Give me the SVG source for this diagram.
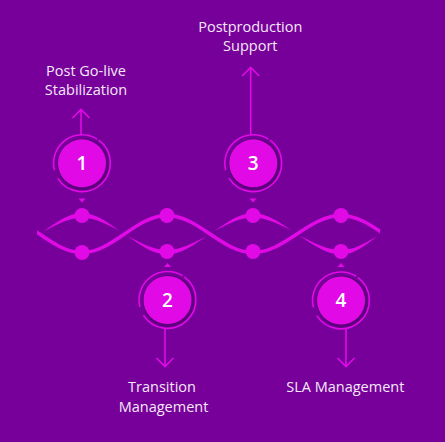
<svg xmlns="http://www.w3.org/2000/svg" width="445" height="442" viewBox="0 0 445 442">
  <defs>
    <style>
      .bg { fill: #77009b; }
      .mag { fill: #e10ae6; }
      .wave { fill: none; stroke: #e10ae6; stroke-width: 3.5; }
      .ring { fill: none; stroke: #e10ae6; stroke-width: 1.6; }
      .shadow { fill: #5e007e; }
      .arrow { fill: none; stroke: #e10ae6; stroke-width: 1.6; }
      .num { font-family: "Open Sans", "Liberation Sans", sans-serif; font-size: 19px; font-weight: 600; fill: #ffffff; text-anchor: middle; }
      .label { font-family: "Open Sans", "Liberation Sans", sans-serif; font-size: 14.5px; fill: #f3e9f5; text-anchor: middle; }
    </style>
    <clipPath id="waveClip">
      <rect x="37" y="190" width="343" height="90"/>
    </clipPath>
    <path id="ringShape" d="M 16.8 -23.1 A 28.5 28.5 0 1 1 -24.2 15.1 M -27.6 6.9 A 28.5 28.5 0 0 1 15.1 -24.2"/>
  </defs>

  <rect class="bg" x="0" y="0" width="445" height="442"/>

  <g id="connectors">
    <path class="wave" clip-path="url(#waveClip)" d="M -3 215.5 C 27.9 215.5 51.1 252.5 82 252.5 C 112.9 252.5 136.1 215.5 167 215.5 C 198.25 215.5 221.75 252.5 253 252.5 C 285 252.5 309 215.5 341 215.5 C 372.25 215.5 395.75 252.5 427 252.5"/>
    <path class="mag" d="M 43 231.6 C 56 222.8 68 213.3 82 213.3 C 96 213.3 107 222.2 120 231 C 107 224.5 96 217.7 82 217.7 C 68 217.7 56 225.1 43 231.6 Z"/>
    <path class="mag" d="M 127 235.7 C 140 244.5 153 254.5 167 254.5 C 181 254.5 194 244.8 207 236 C 194 242.5 181 250.1 167 250.1 C 153 250.1 140 242.2 127 235.7 Z"/>
    <path class="mag" d="M 215 230.6 C 228 221.8 239 213.3 253 213.3 C 267 213.3 279 221.9 292 230.7 C 279 224.2 267 217.7 253 217.7 C 239 217.7 228 224.1 215 230.6 Z"/>
    <path class="mag" d="M 300 236 C 314 245.5 327 254.5 341 254.5 C 355 254.5 365 245 377 236.5 C 365 242.5 355 250.1 341 250.1 C 327 250.1 314 242.8 300 236 Z"/>

    <circle class="mag" cx="82" cy="215.5" r="7.5"/>
    <circle class="mag" cx="82" cy="252.5" r="7.5"/>
    <circle class="mag" cx="167" cy="215.5" r="7.5"/>
    <circle class="mag" cx="167" cy="251.5" r="7.5"/>
    <circle class="mag" cx="253" cy="215.5" r="7.5"/>
    <circle class="mag" cx="253" cy="251.5" r="7.5"/>
    <circle class="mag" cx="341" cy="215.5" r="7.5"/>
    <circle class="mag" cx="341" cy="251.5" r="7.5"/>

    <polygon class="mag" points="78.5,198.5 85.5,198.5 82,202.5"/>
    <polygon class="mag" points="249.5,198.5 256.5,198.5 253,202.5"/>
    <polygon class="mag" points="164,267 171,267 167.5,263"/>
    <polygon class="mag" points="337.5,267 344.5,267 341,263"/>

    <path class="arrow" d="M 81 134.8 L 81 109.5 M 72.5 118 L 81 109.5 L 89.5 118"/>
    <path class="arrow" d="M 250.7 134.8 L 250.7 67.5 M 242.2 76 L 250.7 67.5 L 259.2 76"/>
    <path class="arrow" d="M 165 328.5 L 165 366.5 M 156.5 358 L 165 366.5 L 173.5 358"/>
    <path class="arrow" d="M 346 328.6 L 346 366.5 M 337.5 358 L 346 366.5 L 354.5 358"/>
  </g>

  <g id="node-1">
    <circle class="shadow" cx="83" cy="164.3" r="26"/>
    <circle class="mag" cx="82" cy="163.3" r="24"/>
    <use href="#ringShape" class="ring" transform="translate(82 163.3)"/>
    <text class="num" x="82" y="170">1</text>
    <text class="label" x="86" y="76">Post Go-live</text>
    <text class="label" x="86" y="95">Stabilization</text>
  </g>

  <g id="node-2">
    <circle class="shadow" cx="168.5" cy="301" r="26"/>
    <circle class="mag" cx="167.5" cy="300" r="24"/>
    <use href="#ringShape" class="ring" transform="translate(167.5 300)"/>
    <text class="num" x="167.5" y="306.7">2</text>
    <text class="label" x="162" y="391.5">Transition</text>
    <text class="label" x="163.5" y="412">Management</text>
  </g>

  <g id="node-3">
    <circle class="shadow" cx="254.3" cy="164.3" r="26"/>
    <circle class="mag" cx="253.3" cy="163.3" r="24"/>
    <use href="#ringShape" class="ring" transform="translate(253.3 163.3)"/>
    <text class="num" x="253.3" y="170">3</text>
    <text class="label" x="250.3" y="32">Postproduction</text>
    <text class="label" x="250.3" y="51">Support</text>
  </g>

  <g id="node-4">
    <circle class="shadow" cx="342" cy="301.5" r="26"/>
    <circle class="mag" cx="341" cy="300.5" r="24"/>
    <use href="#ringShape" class="ring" transform="translate(341 300.5)"/>
    <text class="num" x="341" y="307.2">4</text>
    <text class="label" x="345.3" y="391.5">SLA Management</text>
  </g>
</svg>
